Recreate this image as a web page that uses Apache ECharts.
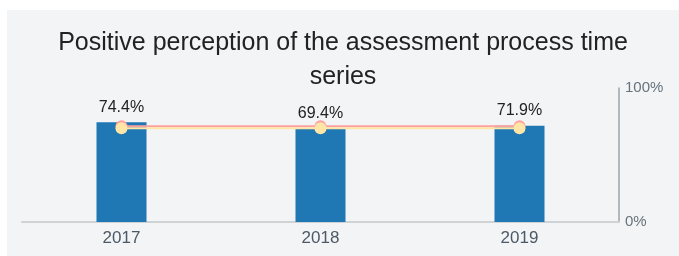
<!DOCTYPE html>
<html>
<head>
<meta charset="utf-8">
<script src="https://cdn.jsdelivr.net/npm/echarts@6/dist/echarts.min.js"></script>
<style>
	html, body { margin: 0; padding: 0; background: #fff; }
	#chart { position: absolute; left: 7px; top: 10px; width: 672px; height: 246px; background: #f3f4f6; }
</style>
</head>
<body>
<div id="chart"></div>
<script>
var years = ['2017', '2018', '2019'];
var positive = [74.4, 69.4, 71.9];
var averageLine = [71.5, 71.5, 71.5];
var targetLine = [70, 70, 70];
var rightTicks = ['0%', '100%'];

var myChart = echarts.init(document.getElementById('chart'));

var option = {
	animation: false,
	title: {
		text: 'Positive perception of the assessment process time\nseries',
		left: 'center',
		top: 11,
		textStyle: {
			fontFamily: 'Liberation Sans',
			fontSize: 25,
			fontWeight: 'normal',
			color: '#222',
			lineHeight: 34
		}
	},
	grid: {
		left: 15,
		right: 60,
		top: 78,
		bottom: 34
	},
	xAxis: {
		type: 'category',
		data: years,
		axisTick: { show: false },
		axisLine: { lineStyle: { color: '#d0d3d6', width: 2 } },
		axisLabel: {
			fontFamily: 'Liberation Sans',
			fontSize: 17,
			color: '#4b5a66',
			margin: 8
		}
	},
	yAxis: [{
		type: 'value',
		min: 0,
		max: 100,
		show: false
	}, {
		type: 'value',
		position: 'right',
		min: 0,
		max: 100,
		interval: 100,
		splitLine: { show: false },
		axisTick: { show: false },
		axisLine: { show: true, lineStyle: { color: '#9aa6ae', width: 1.5 } },
		axisLabel: {
			fontFamily: 'Liberation Sans',
			fontSize: 15,
			color: '#66737c',
			margin: 6,
			formatter: function(v) {
				return v == 0 ? rightTicks[0] : rightTicks[1];
			}
		}
	}],
	series: [{
		name: 'Positive',
		type: 'bar',
		barWidth: 50,
		data: positive,
		itemStyle: { color: '#1f77b4' },
		label: {
			show: true,
			position: 'top',
			distance: 7,
			fontFamily: 'Liberation Sans',
			fontSize: 16,
			color: '#222',
			formatter: function(p) {
				return p.value.toFixed(1) + '%';
			}
		}
	}, {
		name: 'Average',
		type: 'line',
		data: averageLine,
		symbol: 'circle',
		symbolSize: 12,
		lineStyle: { color: '#ffa0a0', width: 2 },
		itemStyle: { color: '#ffa0a0' }
	}, {
		name: 'Target',
		type: 'line',
		data: targetLine,
		symbol: 'circle',
		symbolSize: 12,
		lineStyle: { color: '#ffe6a6', width: 2 },
		itemStyle: { color: '#ffe6a6' }
	}]
};

myChart.setOption(option);
</script>
</body>
</html>
